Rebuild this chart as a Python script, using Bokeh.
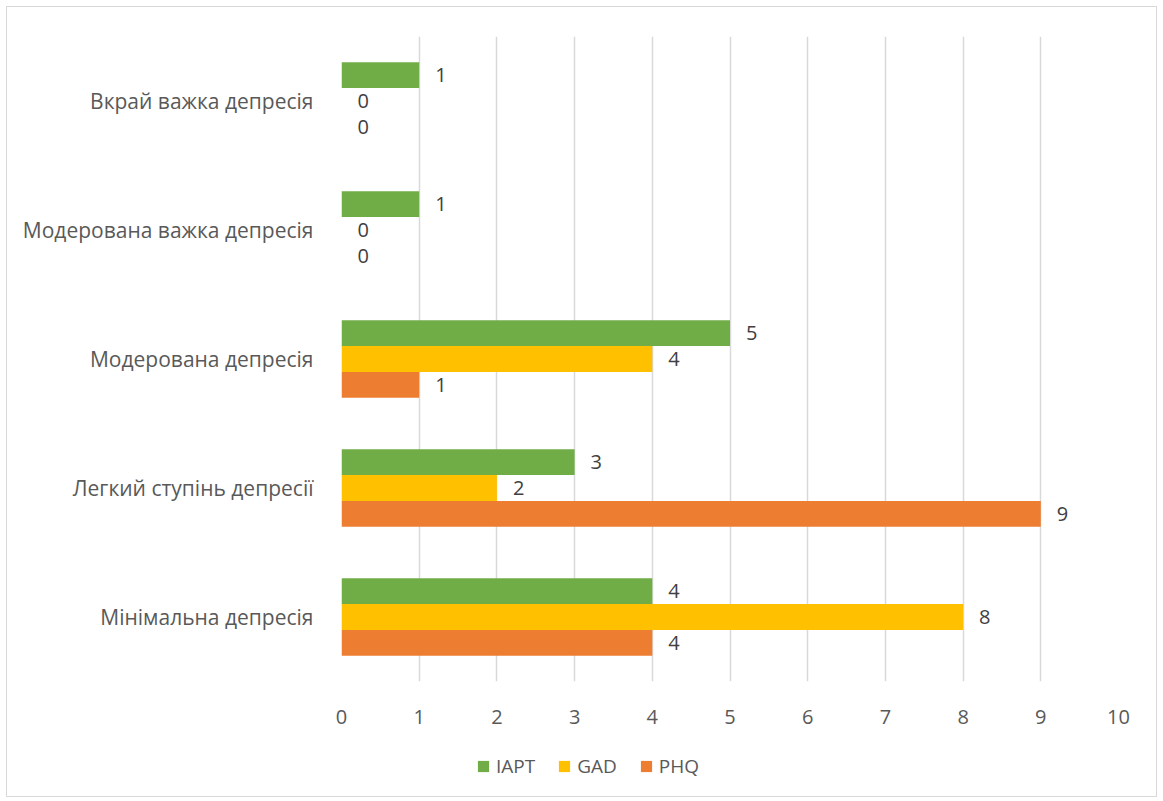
from bokeh.plotting import figure
from bokeh.layouts import column
from bokeh.models import ColumnDataSource, FactorRange, Legend, LegendItem
from bokeh.transform import dodge
from bokeh.core.properties import value
from bokeh.embed import file_html
from bokeh.resources import INLINE

categories = ["Мінімальна депресія", "Легкий ступінь депресії", "Модерована депресія",
              "Модерована важка депресія", "Вкрай важка депресія"]
iapt = [4, 3, 5, 1, 1]
gad = [8, 2, 4, 0, 0]
phq = [4, 9, 1, 0, 0]
x_ticks = list(range(0, 11))

FONT = "Open Sans"
TXT = "#595959"
FS = "20px"

src = ColumnDataSource(dict(cat=categories, iapt=iapt, gad=gad, phq=phq,
                            iapt_s=[str(v) for v in iapt],
                            gad_s=[str(v) for v in gad],
                            phq_s=[str(v) for v in phq]))

p = figure(frame_width=777, frame_height=645, y_range=FactorRange(*categories), x_range=(0, 10),
           output_backend="svg", toolbar_location=None,
           min_border_left=334, min_border_right=38, min_border_top=29, min_border_bottom=55)
p.outline_line_color = None

# legend-only strip below the chart (zero-width placeholder bars carry the legend swatches)
lf = figure(width=1149, height=60, x_range=(0, 1), y_range=(0, 1),
            output_backend="svg", toolbar_location=None, min_border=0)
lf.axis.visible = False
lf.grid.grid_line_color = None
lf.outline_line_color = None
placeholder = ColumnDataSource(dict(y=[0.5], right=[0]))

series = [("iapt", "IAPT", "#70AD47", 0.2), ("gad", "GAD", "#FFC000", 0.0), ("phq", "PHQ", "#ED7D31", -0.2)]
items = []
for key, name, col, off in series:
    p.hbar(y=dodge("cat", off, range=p.y_range), right=key, left=0, height=0.2,
           source=src, fill_color=col, line_color=None)
    p.text(x=key, y=dodge("cat", off, range=p.y_range), text=key + "_s", source=src,
           x_offset=16, text_align="left", text_baseline="middle",
           text_font=value(FONT), text_font_size=FS, text_color="#404040")
    lr = lf.hbar(y="y", right="right", left=0, height=0.5, source=placeholder,
                 fill_color=col, line_color=None)
    items.append(LegendItem(label=name, renderers=[lr]))

legend = Legend(items=items, orientation="horizontal", location=(135, 17),
                label_text_font=FONT, label_text_font_size="19px", label_text_color=TXT,
                glyph_width=14, glyph_height=14, spacing=22, label_standoff=6,
                border_line_color=None, background_fill_alpha=0, padding=0, margin=0)
lf.add_layout(legend)

p.xaxis.ticker = x_ticks
p.xaxis.axis_line_color = None
p.xaxis.major_tick_line_color = None
p.xaxis.minor_tick_line_color = None
p.xaxis.major_label_text_font = FONT
p.xaxis.major_label_text_font_size = FS
p.xaxis.major_label_text_color = TXT
p.xaxis.major_label_standoff = 22

p.yaxis.axis_line_color = None
p.yaxis.major_tick_line_color = None
p.yaxis.major_label_text_font = FONT
p.yaxis.major_label_text_font_size = "21px"
p.yaxis.major_label_text_color = TXT
p.yaxis.major_label_standoff = 22

p.xgrid.grid_line_color = "#d9d9d9"
p.xgrid.grid_line_width = 1.5
p.ygrid.grid_line_color = None

layout = column(p, lf, spacing=0,
                styles={"border": "1px solid #d9d9d9", "margin": "6px 0 0 6px"})

open("out.html", "w").write(file_html(layout, INLINE))
